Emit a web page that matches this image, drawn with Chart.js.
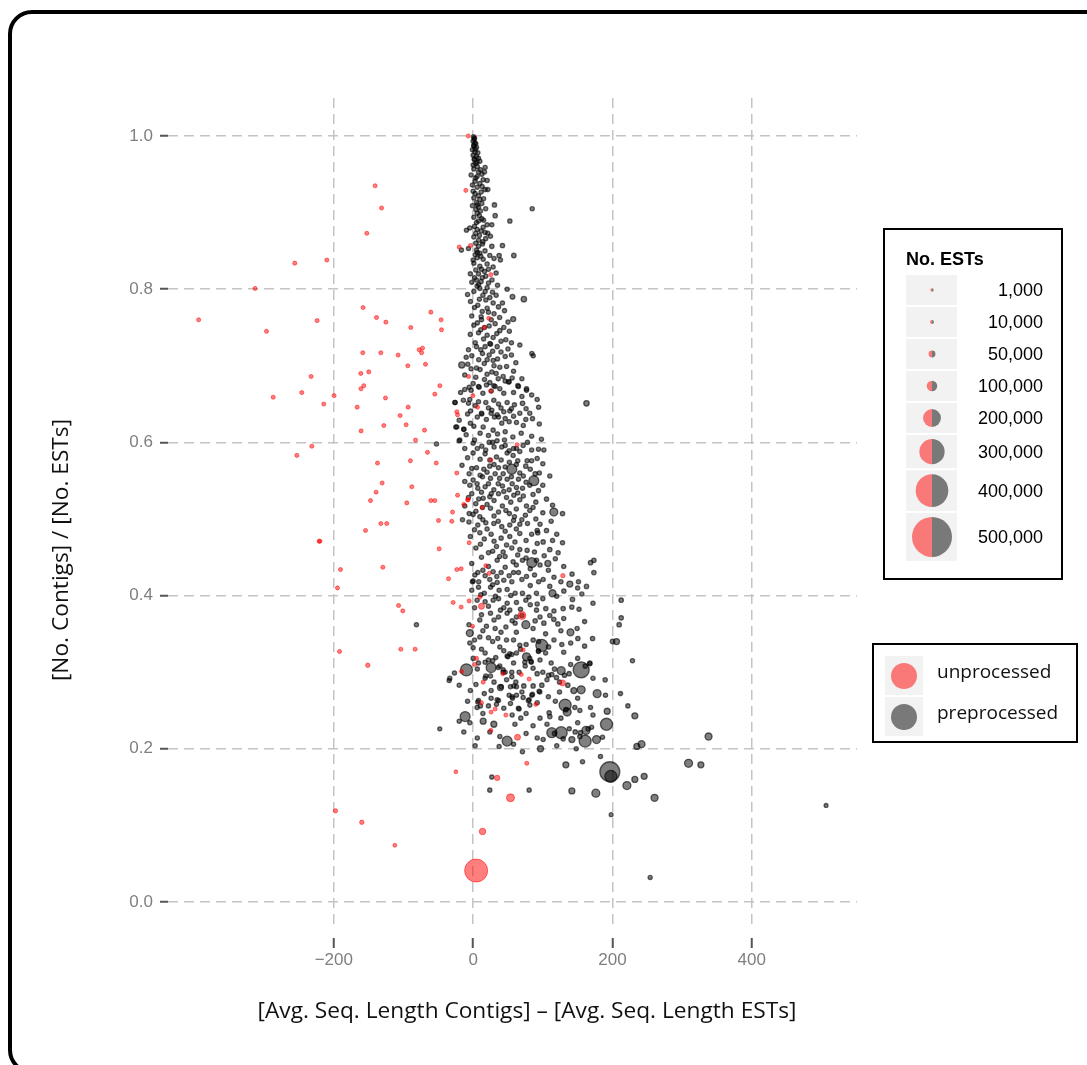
<!DOCTYPE html>
<html>
<head>
<meta charset="utf-8">
<script src="https://cdn.jsdelivr.net/npm/chart.js@4.4.0/dist/chart.umd.min.js"></script>
<style>
  html, body { margin: 0; padding: 0; background: #fff; overflow: hidden; }
  #frame { position: absolute; left: 8px; top: 10px; width: 1200px; height: 1056px;
           border: 4px solid #000; border-radius: 24px; }
  #wrap { position: absolute; left: 0; top: 0; width: 1087px; height: 1065px; }
</style>
</head>
<body>
<div id="frame"></div>
<div id="wrap"><canvas id="chart"></canvas></div>
<script>
// axis ticks
const xTicks = [-200, 0, 200, 400];
const xTickLabels = ['\u2212200', '0', '200', '400'];
const yTicks = [0, 0.2, 0.4, 0.6, 0.8, 1.0];
const yTickLabels = ['0.0', '0.2', '0.4', '0.6', '0.8', '1.0'];

const xTitle = '[Avg. Seq. Length Contigs] \u2013 [Avg. Seq. Length ESTs]';
const yTitle = '[No. Contigs] / [No. ESTs]';

// size legend breaks (number of ESTs)
const sizeBreaks = [1000, 10000, 50000, 100000, 200000, 300000, 400000, 500000];
const sizeLabels = ['1,000', '10,000', '50,000', '100,000', '200,000', '300,000', '400,000', '500,000'];
const seriesNames = ['unprocessed', 'preprocessed'];

// [length difference, contigs/ESTs ratio, no. ESTs]
const unprocessed = [
  [-7,1.0,12000],[-140.7,0.935,12000],[-131.5,0.906,12000],[-152.6,0.873,12000],[-256,0.834,12000],
  [-210,0.838,12000],[-313,0.801,12000],[-394,0.760,12000],[-296.6,0.745,12000],[-224,0.759,12000],
  [-158,0.776,12000],[-138.7,0.763,12000],[-125.3,0.757,12000],[-89.5,0.750,12000],[-60.7,0.770,12000],
  [-46,0.760,12000],[-45.4,0.747,12000],[-158.4,0.717,12000],[-132.5,0.717,12000],[-107.7,0.714,12000],
  [-77.5,0.721,12000],[-72.7,0.723,12000],[-74,0.717,12000],[-93.8,0.700,12000],[-68.4,0.702,12000],
  [-161.2,0.690,12000],[-149.8,0.692,12000],[-232.6,0.686,12000],[-157,0.674,12000],[-47.8,0.674,12000],
  [-10.5,0.929,12000],[-20,0.855,12000],[-3.8,0.857,12000],[25.4,0.819,12000],[22.5,0.762,12000],
  [15.8,0.750,12000],[-6.6,0.686,12000],[-161,0.670,12000],[-287,0.659,12000],[-246,0.665,12000],
  [-214.4,0.650,12000],[-199.6,0.661,12000],[-125.8,0.658,12000],[-166.5,0.646,12000],[-93.3,0.646,12000],
  [-104.8,0.635,12000],[-96.2,0.623,12000],[-128.2,0.622,12000],[-160.8,0.615,12000],[-69.8,0.616,12000],
  [-55,0.663,12000],[-82.7,0.603,12000],[-231.6,0.595,12000],[-253,0.583,12000],[-65.5,0.587,12000],
  [-137.3,0.573,12000],[-90,0.576,12000],[-53,0.573,12000],[-130.6,0.547,12000],[-88,0.542,12000],
  [-139.3,0.535,12000],[-147.3,0.524,12000],[-95.2,0.521,12000],[-60.7,0.524,12000],[-55,0.524,12000],
  [-132.5,0.494,12000],[-124,0.494,12000],[-154.5,0.485,12000],[-49.7,0.498,12000],[-29.6,0.509,12000],
  [-30.6,0.497,12000],[-221,0.471,12000],[-220,0.471,12000],[-48.8,0.461,12000],[-5.7,0.469,12000],
  [-23.4,0.640,12000],[-22.4,0.636,12000],[-23.4,0.560,12000],[-22.4,0.531,12000],[-13.4,0.519,12000],
  [-8,0.525,12000],[6.3,0.646,12000],[-0.4,0.661,12000],[-190.4,0.434,12000],[-129.6,0.437,12000],
  [-23.4,0.434,12000],[-17.2,0.435,12000],[-35.3,0.422,12000],[-194.7,0.410,12000],[18.2,0.439,12000],
  [23,0.429,12000],[-107,0.387,12000],[-101,0.380,12000],[-28.7,0.391,12000],[-17.2,0.385,12000],
  [-5.7,0.393,12000],[9.6,0.398,12000],[12,0.386,38000],[-0.9,0.360,12000],[-191.8,0.327,12000],
  [-103.8,0.330,12000],[-83.3,0.330,12000],[-151.2,0.309,16000],[4.9,0.318,12000],[2.4,0.310,12000],
  [-16.7,0.301,12000],[25.4,0.667,12000],[63.2,0.597,12000],[25.4,0.577,12000],[-7.2,0.525,12000],
  [13,0.515,12000],[128.8,0.426,16000],[70,0.374,65000],[71.8,0.329,12000],[42.6,0.298,12000],
  [69,0.297,12000],[80.4,0.291,12000],[14.4,0.287,12000],[128.3,0.286,38000],[12,0.260,12000],
  [31.6,0.252,12000],[25.8,0.248,12000],[47,0.244,12000],[90,0.258,12000],[25.4,0.224,12000],
  [63.7,0.215,38000],[-24.8,0.170,9000],[34.5,0.162,30000],[77,0.181,12000],[53.6,0.136,65000],
  [13.5,0.092,45000],[4.3,0.041,270000],[-197.6,0.119,16000],[-159.8,0.104,16000],[-112.4,0.074,9000]
];

const preprocessed = [
  // narrow top of the cloud
  [0.5,0.999,14000],[1.5,0.996,14000],[0,0.993,14000],[2.5,0.991,14000],[1,0.988,14000],
  [3.8,0.990,14000],[1,0.987,14000],[4.8,0.985,14000],[-1,0.982,14000],[2.9,0.979,14000],
  [6.7,0.978,14000],[0,0.975,14000],[4.8,0.973,14000],[1.5,0.970,14000],[7.7,0.971,14000],
  [1.9,0.969,14000],[9.6,0.967,14000],[3.8,0.964,14000],[0,0.962,14000],[6,0.960,14000],
  [17.2,0.959,14000],[1,0.957,14000],[7.7,0.953,14000],[16.3,0.953,14000],[12.5,0.950,14000],
  [-2.9,0.949,14000],[5.7,0.947,14000],[14.4,0.943,14000],[20.1,0.942,14000],[2.9,0.941,14000],
  [9.6,0.938,14000],[-1,0.936,14000],[5.7,0.933,14000],[17.2,0.930,14000],[21.1,0.930,14000],
  [11.5,0.927,14000],[2.9,0.925,14000],[7.7,0.922,14000],[1,0.919,14000],[9.6,0.917,14000],
  [4.8,0.913,14000],[12.5,0.912,14000],[-1,0.909,14000],[7.7,0.907,14000],[30.6,0.910,16000],
  [3.8,0.904,14000],[10.5,0.902,14000],[84.8,0.905,14000],[5.7,0.899,14000],[31.6,0.896,16000],
  [1,0.894,14000],[12.5,0.892,14000],[7.7,0.889,14000],[52.7,0.889,16000],[20.1,0.884,14000],
  [26.8,0.884,14000],[14.4,0.881,14000],[4.8,0.887,14000],[-4.8,0.880,14000],[-9.6,0.877,14000],
  [5.7,0.878,14000],[11.5,0.876,14000],[17.2,0.874,14000],[21.1,0.873,14000],[3.8,0.873,14000],
  [24.9,0.869,14000],[1,0.868,14000],[8,0.864,14000],[14,0.862,14000],
  [2,0.997,14000],[3,0.983,14000],[5.5,0.966,14000],[10.5,0.956,14000],[3.5,0.945,14000],
  [13,0.934,14000],[0,0.928,14000],[15,0.918,14000],[6,0.910,14000],[18,0.905,14000],
  [9,0.896,14000],[15,0.890,14000],[2,0.882,14000],[9,0.870,14000],[18,0.866,14000],
  // 0.86 - 0.67
  [-16.8,0.851,14000],[-6.7,0.853,14000],[3.8,0.860,14000],[7.7,0.856,14000],[13.4,0.859,14000],
  [4.8,0.851,14000],[26.8,0.856,16000],[42.1,0.857,16000],[9.6,0.847,14000],[2.9,0.845,14000],
  [23.9,0.844,14000],[37.3,0.844,16000],[58.4,0.844,18000],[5.7,0.841,14000],[14.4,0.839,14000],
  [39.2,0.838,14000],[1,0.834,14000],[20.1,0.833,14000],[9.6,0.830,14000],[28.7,0.829,14000],
  [3.8,0.825,14000],[16.3,0.823,14000],[7.7,0.820,14000],[18.2,0.817,14000],[-1.9,0.809,14000],
  [4.8,0.812,14000],[11.5,0.810,14000],[22,0.808,14000],[5.7,0.804,14000],[9.6,0.801,14000],
  [48.8,0.800,14000],[17.2,0.797,14000],[27.8,0.796,14000],[12,0.826,14000],[2,0.815,14000],
  [6,0.848,14000],[11,0.843,14000],[17,0.850,14000],[30,0.840,14000],[0,0.838,14000],
  [22,0.826,14000],[33,0.821,14000],[13,0.815,14000],[27,0.812,14000],[-4,0.820,14000],
  [8,0.806,14000],[35,0.805,14000],[20,0.802,14000],[1,0.797,14000],[14,0.792,14000],
  [24,0.789,14000],[-8,0.793,14000],[33,0.792,14000],[9,0.787,14000],
  [-3.8,0.784,14000],[56.5,0.790,22000],[72.8,0.787,30000],[18.2,0.786,14000],[28.7,0.782,14000],
  [6.7,0.779,14000],[20.1,0.775,14000],[36.4,0.777,16000],[42.1,0.782,14000],[11.5,0.764,14000],
  [22,0.770,14000],[57.5,0.761,25000],[1,0.753,14000],[16.3,0.750,14000],[31.6,0.755,14000],
  [38.3,0.746,16000],[44,0.750,14000],[7.7,0.743,14000],[20.1,0.740,14000],[28.7,0.737,14000],
  [46.9,0.734,14000],[-6.7,0.721,14000],[4.8,0.725,14000],[17.2,0.725,14000],[34.5,0.725,14000],
  [67,0.727,14000],[13.4,0.716,14000],[23,0.714,14000],[84.3,0.716,14000],[86.2,0.713,14000],
  [-1.9,0.713,14000],[-16.3,0.701,40000],[-7.7,0.702,14000],[20.1,0.708,14000],[28.7,0.707,14000],
  [46,0.712,14000],[61.3,0.704,14000],[4.8,0.697,14000],[38.3,0.698,14000],[26.8,0.692,14000],
  [43.1,0.686,14000],[50.8,0.679,16000],[3.8,0.685,14000],[16.3,0.682,14000],[7.7,0.673,14000],
  [29.7,0.674,14000],[64.2,0.674,16000],[76.6,0.670,16000],[-5.7,0.672,14000],[12,0.760,14000],
  [25,0.728,14000],[10,0.695,14000],[33,0.690,14000],
  [2,0.776,14000],[13,0.771,14000],[30,0.768,14000],[45,0.772,14000],[-2,0.765,14000],
  [26,0.760,14000],[38,0.763,14000],[50,0.757,14000],[6,0.756,14000],[23,0.752,14000],
  [11,0.747,14000],[34,0.742,14000],[52,0.745,14000],[-4,0.741,14000],[15,0.735,14000],
  [40,0.732,14000],[24,0.729,14000],[55,0.730,14000],[3,0.730,14000],[11,0.721,14000],
  [28,0.719,14000],[40,0.718,14000],[50,0.722,14000],[-10,0.711,14000],[8,0.708,14000],
  [35,0.709,14000],[55,0.714,14000],[16,0.703,14000],[30,0.700,14000],[48,0.699,14000],
  [-3,0.696,14000],[58,0.693,14000],[20,0.689,14000],[-12,0.688,14000],[36,0.683,14000],
  [46,0.680,14000],[24,0.678,14000],[0,0.677,14000],[56,0.684,14000],[70,0.683,14000],
  // 0.68 - 0.55
  [-12,0.669,14000],[8.6,0.672,14000],[19.1,0.675,14000],[31.6,0.673,14000],[38.3,0.670,14000],
  [51.7,0.679,14000],[65.1,0.673,14000],[76.6,0.668,14000],[-25.8,0.652,14000],[-4.8,0.656,14000],
  [7.7,0.653,14000],[18.2,0.652,14000],[29.7,0.655,14000],[36.4,0.650,14000],[48.8,0.652,14000],
  [59.3,0.649,14000],[70.9,0.651,18000],[91.9,0.656,14000],[162.7,0.651,30000],[12.4,0.637,14000],
  [25.8,0.638,14000],[34.4,0.636,14000],[44,0.640,14000],[52.6,0.641,14000],[67,0.638,14000],
  [81.3,0.638,14000],[-24.9,0.620,14000],[-13.4,0.617,14000],[1,0.621,14000],[14.4,0.620,14000],
  [28.7,0.616,14000],[41.1,0.625,14000],[51.7,0.627,14000],[62.2,0.626,14000],[75.6,0.630,14000],
  [85.2,0.631,14000],[30.6,0.633,14000],[36.4,0.633,14000],[26.8,0.642,14000],
  [-52.6,0.598,14000],[-19.1,0.603,14000],[0,0.599,14000],[12.4,0.595,14000],[23,0.600,14000],
  [34.4,0.602,14000],[41.1,0.594,14000],[51.7,0.589,14000],[62.2,0.592,14000],[71.8,0.596,14000],
  [93.8,0.591,14000],[101.5,0.590,14000],[0,0.586,14000],[17.2,0.585,14000],[33.5,0.581,14000],
  [40.2,0.577,14000],[48.8,0.586,14000],[57.4,0.583,14000],[67,0.588,14000],[77.5,0.576,14000],
  [91.9,0.579,14000],[-5.7,0.559,14000],[4.8,0.567,14000],[15.3,0.565,14000],[23.9,0.569,14000],
  [36.4,0.567,14000],[43.1,0.559,14000],[55.5,0.565,92000],[67,0.560,14000],[75.6,0.569,16000],
  [87.1,0.550,92000],[89,0.559,16000],[13.4,0.555,14000],[24.9,0.553,14000],[31.6,0.559,14000],
  [48.8,0.552,14000],[65.1,0.552,14000],[5.7,0.546,14000],
  [-26.3,0.652,14000],[-13.4,0.617,14000],[-23.5,0.620,14000],[-20.1,0.602,14000],[-3.8,0.641,14000],
  [-6.7,0.651,14000],[12,0.638,14000],
  [-18,0.665,14000],[-3,0.668,14000],[14,0.664,14000],[26,0.667,14000],[44,0.664,14000],
  [58,0.665,14000],[70,0.660,14000],[84,0.662,14000],[-14,0.655,14000],[3,0.648,14000],
  [22,0.645,14000],[40,0.645,14000],[55,0.644,14000],[76,0.644,14000],[94,0.646,14000],
  [-8,0.637,14000],[6,0.633,14000],[19,0.630,14000],[46,0.631,14000],[58,0.634,14000],
  [72,0.622,14000],[95,0.624,14000],[-20,0.629,14000],[-4,0.625,14000],[10,0.612,14000],
  [22,0.609,14000],[35,0.611,14000],[46,0.614,14000],[57,0.607,14000],[69,0.612,14000],
  [84,0.608,14000],[-10,0.610,14000],[2,0.603,14000],[28,0.600,14000],[45,0.603,14000],
  [78,0.600,14000],[98,0.604,14000],
  [-12,0.592,14000],[6,0.592,14000],[18,0.590,14000],[30,0.594,14000],[46,0.596,14000],
  [58,0.592,14000],[84,0.590,14000],[-8,0.580,14000],[10,0.578,14000],[24,0.577,14000],
  [52,0.574,14000],[64,0.576,14000],[84,0.576,14000],[100,0.572,14000],[-16,0.570,14000],
  [-2,0.566,14000],[30,0.571,14000],[46,0.568,14000],[62,0.571,14000],[82,0.565,14000],
  [10,0.557,14000],[20,0.561,14000],[38,0.553,14000],[55,0.555,14000],[72,0.556,14000],
  [95,0.560,14000],[110,0.556,14000],
  // 0.55 - 0.42
  [-4.8,0.544,14000],[6.7,0.540,14000],[17.2,0.542,14000],[29.7,0.538,14000],[42.1,0.543,14000],
  [51.7,0.538,14000],[62.2,0.541,14000],[70.9,0.540,14000],[81.3,0.544,14000],[93.8,0.537,14000],
  [-6.7,0.528,14000],[3.8,0.520,14000],[14.4,0.527,14000],[23.9,0.529,14000],[36.4,0.533,14000],
  [47.9,0.528,14000],[58.4,0.531,14000],[67,0.525,14000],[76.6,0.517,14000],[105.3,0.526,16000],
  [13.4,0.515,14000],[24.9,0.514,14000],[36.4,0.509,14000],[47,0.511,14000],[59.3,0.503,14000],
  [69.9,0.499,14000],[81.3,0.511,14000],[115.8,0.509,65000],[128.3,0.507,16000],[6.7,0.492,14000],
  [18.2,0.495,14000],[29.7,0.494,14000],[41.1,0.490,14000],[52.6,0.492,14000],[67,0.493,14000],
  [-15.3,0.499,14000],[-5.7,0.507,14000],[9.6,0.503,14000],[0,0.506,14000],
  [-12,0.549,14000],[0,0.551,14000],[22,0.546,14000],[36,0.546,14000],[56,0.546,14000],
  [76,0.548,14000],[100,0.544,14000],[12,0.535,14000],[26,0.533,14000],[44,0.536,14000],
  [64,0.534,14000],[86,0.532,14000],[-2,0.533,14000],[8,0.526,14000],[30,0.524,14000],
  [54,0.522,14000],[72,0.530,14000],[90,0.522,14000],[114,0.518,14000],[-12,0.517,14000],
  [20,0.519,14000],[42,0.517,14000],[62,0.513,14000],[86,0.515,14000],[100,0.508,14000],
  [4,0.510,14000],[30,0.504,14000],[52,0.507,14000],[75,0.505,14000],[90,0.500,14000],
  [9.6,0.482,14000],[25.8,0.480,14000],[40.2,0.475,14000],[52.6,0.477,14000],[67,0.481,14000],
  [91.9,0.485,16000],[105.3,0.485,16000],[10.5,0.467,14000],[22,0.456,14000],[33.5,0.464,14000],
  [43.1,0.457,14000],[55.5,0.462,14000],[67,0.460,14000],[77.5,0.459,14000],[92.8,0.482,16000],
  [100.5,0.470,16000],[110,0.460,18000],[128.3,0.469,14000],[34.5,0.446,14000],[45.9,0.451,14000],
  [57.4,0.444,14000],[70.8,0.446,14000],[84.2,0.443,92000],[90.9,0.446,16000],[107.2,0.442,38000],
  [168.5,0.443,16000],[173.3,0.446,16000],[6.7,0.430,14000],[17.2,0.426,14000],[28.7,0.431,14000],
  [40.2,0.430,14000],[51.7,0.426,14000],[65.1,0.430,14000],[76.6,0.425,14000],[88.1,0.427,14000],
  [100.5,0.421,14000],[0,0.419,14000],[23.9,0.421,14000],[34.5,0.417,14000],[55.5,0.418,14000],
  [138.8,0.415,38000],[151.2,0.418,14000],[162.7,0.412,16000],[173.3,0.430,16000],
  [2.4,0.427,14000],[-1,0.418,14000],[11,0.401,14000],
  [-6,0.496,14000],[14,0.499,14000],[36,0.497,14000],[58,0.498,14000],[78,0.494,14000],
  [96,0.493,14000],[112,0.497,14000],[2,0.486,14000],[20,0.487,14000],[46,0.484,14000],
  [62,0.487,14000],[84,0.480,14000],[120,0.480,14000],[-4,0.477,14000],[16,0.474,14000],
  [30,0.471,14000],[60,0.470,14000],[76,0.472,14000],[92,0.468,14000],[114,0.472,14000],
  [4,0.462,14000],[28,0.458,14000],[48,0.466,14000],[64,0.453,14000],[88,0.457,14000],
  [102,0.452,14000],[122,0.456,14000],[12,0.450,14000],[38,0.451,14000],[76,0.449,14000],
  [96,0.440,14000],[118,0.448,14000],[-2,0.442,14000],[22,0.438,14000],[46,0.437,14000],
  [62,0.440,14000],[82,0.435,14000],[108,0.433,14000],[130,0.438,14000],[14,0.433,14000],
  [34,0.425,14000],[58,0.430,14000],[70,0.421,14000],[94,0.418,14000],[116,0.424,14000],
  [142,0.428,14000],[8,0.418,14000],[28,0.414,14000],[44,0.420,14000],[82,0.413,14000],
  [110,0.412,14000],[126,0.418,14000],[150,0.410,14000],
  // 0.42 - 0.29
  [7.7,0.411,14000],[25,0.411,14000],[37.3,0.407,14000],[48.8,0.408,14000],[60.3,0.403,14000],
  [70.8,0.403,14000],[90.9,0.403,14000],[113.9,0.403,52000],[130.2,0.406,16000],[142.6,0.395,16000],
  [5.7,0.394,14000],[17.2,0.392,14000],[28.7,0.394,14000],[36.4,0.396,14000],[48.8,0.390,14000],
  [62.2,0.391,14000],[75.6,0.394,14000],[91.9,0.389,14000],[104.3,0.383,16000],[129.2,0.383,16000],
  [141.6,0.385,16000],[24.9,0.377,14000],[36.4,0.372,14000],[48.8,0.377,14000],[62.2,0.372,14000],
  [75.6,0.362,65000],[89,0.367,16000],[101.5,0.364,16000],[115.8,0.369,16000],[121.6,0.363,16000],
  [139.7,0.352,52000],[149.3,0.357,14000],[19.1,0.360,14000],[31.6,0.357,14000],[47,0.359,14000],
  [60.3,0.364,14000],[9.6,0.368,14000],[39.2,0.381,14000],[52.6,0.381,14000],[91,0.381,14000],
  [212.5,0.394,16000],[212.5,0.371,16000],[209.6,0.362,18000],[-81.4,0.362,14000],
  [-4.8,0.351,52000],[9.6,0.346,14000],[22,0.345,14000],[35.4,0.344,14000],[47.9,0.342,14000],
  [67,0.335,14000],[86.2,0.342,16000],[98.6,0.335,120000],[108.2,0.333,16000],[127.3,0.336,14000],
  [150.3,0.344,16000],[171.4,0.344,16000],[200.1,0.340,18000],[205.8,0.340,38000],[228.7,0.315,14000],
  [-4.8,0.338,14000],[0,0.332,14000],[38.3,0.333,14000],[17.2,0.325,14000],[32.5,0.319,14000],
  [48.8,0.321,14000],[62.2,0.325,14000],[76.6,0.320,65000],[83.3,0.314,14000],[93.8,0.328,14000],
  [7.7,0.312,14000],[25.8,0.306,92000],[43.1,0.303,14000],[55.5,0.300,14000],[74.7,0.308,14000],
  [91.9,0.298,16000],[108.2,0.296,16000],[116.8,0.304,16000],[126.4,0.302,65000],[137.8,0.298,16000],
  [155.1,0.303,174000],[167.5,0.312,16000],[-9.6,0.303,120000],[-26.8,0.299,14000],[17.2,0.292,14000],
  [-34.4,0.289,14000],[-33.5,0.292,14000],
  [-2,0.407,14000],[16,0.403,14000],[32,0.399,14000],[54,0.400,14000],[80,0.398,14000],
  [100,0.396,14000],[120,0.399,14000],[156,0.402,14000],[2,0.384,14000],[22,0.386,14000],
  [44,0.384,14000],[68,0.382,14000],[82,0.388,14000],[116,0.380,14000],[152,0.382,14000],
  [172,0.390,14000],[12,0.375,14000],[30,0.368,14000],[56,0.367,14000],[70,0.374,14000],
  [96,0.372,14000],[110,0.374,14000],[130,0.370,14000],[160,0.366,14000],[-6,0.362,14000],
  [14,0.354,14000],[40,0.352,14000],[62,0.352,14000],[86,0.357,14000],[104,0.350,14000],
  [126,0.354,14000],[2,0.342,14000],[28,0.340,14000],[58,0.342,14000],[76,0.336,14000],
  [94,0.340,14000],[116,0.342,14000],[140,0.338,14000],[160,0.334,14000],[12,0.330,14000],
  [44,0.328,14000],[68,0.330,14000],[104,0.325,14000],[130,0.326,14000],[150,0.318,14000],
  [0,0.318,14000],[28,0.315,14000],[58,0.312,14000],[96,0.316,14000],[112,0.312,14000],
  [140,0.310,14000],[6,0.304,14000],[36,0.306,14000],[66,0.300,14000],[86,0.305,14000],
  [100,0.300,14000],
  // 0.33 - 0.18
  [17.2,0.313,14000],[22,0.316,14000],[38.3,0.308,14000],[49.8,0.320,14000],[52.6,0.324,14000],
  [55.5,0.323,14000],[81.3,0.318,14000],[83.3,0.313,14000],[93.8,0.327,14000],[74.2,0.313,14000],
  [43.1,0.300,14000],[45.9,0.300,14000],[55.5,0.294,14000],[62.2,0.281,14000],[61.3,0.287,14000],
  [72.7,0.282,16000],[86.1,0.282,16000],[98.6,0.283,16000],[95.7,0.274,14000],[112.9,0.297,16000],
  [119.6,0.293,16000],[131.1,0.296,16000],[160.8,0.308,16000],[167.5,0.311,14000],[189.5,0.290,16000],
  [211.5,0.272,14000],[18.2,0.295,14000],[24.9,0.295,14000],[39.2,0.280,38000],[53.6,0.281,14000],
  [58.4,0.282,14000],[25.8,0.276,14000],[135.9,0.283,16000],[144.5,0.276,38000],[155.1,0.277,65000],
  [178,0.272,65000],[168.5,0.254,14000],[192.4,0.249,38000],[222.1,0.256,14000],[232.1,0.243,38000],
  [191.4,0.232,120000],[177.1,0.212,65000],[160.8,0.210,120000],[153.2,0.216,16000],[154.1,0.221,16000],
  [165.1,0.226,16000],[161.8,0.224,65000],[146.5,0.222,16000],[141.7,0.212,38000],[126.4,0.221,120000],
  [112.9,0.221,92000],[116.8,0.220,16000],[129.2,0.213,16000],[100.5,0.212,14000],[96.7,0.200,38000],
  [109.1,0.247,16000],[110.1,0.242,16000],[132.1,0.257,120000],[133.1,0.251,16000],[135,0.248,65000],
  [153.2,0.250,14000],[66,0.252,14000],[81.4,0.257,14000],[79.4,0.263,16000],[85.2,0.271,14000],
  [56.5,0.266,14000],[53.6,0.259,14000],[34.5,0.264,14000],[36.4,0.263,14000],[10.5,0.256,14000],
  [6.7,0.261,14000],[-11.5,0.242,92000],[-4.8,0.234,14000],[14.4,0.236,38000],[29.7,0.232,38000],
  [-13.4,0.222,14000],[-47.9,0.226,12000],[2.9,0.204,14000],[38.3,0.216,14000],[48.8,0.210,92000],
  [37.3,0.203,14000],[70.8,0.196,14000],[182.8,0.190,14000],[157,0.183,14000],[133.1,0.179,38000],
  [185.7,0.215,14000],[65,0.253,14000],[68.4,0.240,14000],[40.2,0.281,14000],[56,0.268,14000],
  [51.7,0.270,14000],[62.2,0.270,14000],[71.8,0.267,14000],[84.2,0.270,14000],[94.7,0.275,14000],
  [80.4,0.264,14000],[33.5,0.258,14000],[25.8,0.266,14000],[7.7,0.263,14000],[5.7,0.254,14000],
  [-20,0.283,14000],[4,0.284,14000],[30,0.287,14000],[48,0.290,14000],[106,0.290,14000],
  [124,0.287,14000],[172,0.292,14000],[-4,0.276,14000],[16,0.272,14000],[70,0.274,14000],
  [108,0.268,14000],[124,0.274,14000],[150,0.266,14000],[190,0.270,14000],[-8,0.262,14000],
  [22,0.256,14000],[44,0.253,14000],[92,0.260,14000],[118,0.262,14000],[146,0.254,14000],
  [14,0.246,14000],[56,0.244,14000],[76,0.246,14000],[96,0.240,14000],[126,0.240,14000],
  [172,0.244,14000],[-20,0.236,14000],[60,0.232,14000],[86,0.230,14000],[106,0.232,14000],
  [150,0.234,14000],[24,0.222,14000],[76,0.220,14000],[92,0.214,14000],[138,0.226,14000],
  [170,0.228,14000],[6,0.214,14000],[58,0.206,14000],[120,0.204,14000],[148,0.200,14000],
  // lower tail
  [196.2,0.170,228000],[197.7,0.164,120000],[220.7,0.152,65000],[232.1,0.160,38000],[245.5,0.164,38000],
  [260.4,0.136,52000],[176.1,0.142,65000],[141.7,0.145,38000],[26.8,0.163,14000],[23.9,0.146,14000],
  [80.4,0.146,14000],[198.1,0.114,9000],[254.1,0.032,12000],[309.2,0.181,65000],[326.9,0.179,38000],
  [337.9,0.216,52000],[506.6,0.126,9000],[235,0.203,38000],[241.7,0.206,52000]
];

// radius of a mark grows linearly with the number of ESTs
const pointSize = n => 1.6 + n * 3.68e-5;

const RED = 'rgba(255,0,0,0.5)';
const BLACK = 'rgba(0,0,0,0.5)';
const BLACK_EDGE = 'rgba(0,0,0,0.6)';

// hand drawn legends and axis titles
const decorations = {
  id: 'decorations',
  afterDraw(chart) {
    const c = chart.ctx;
    c.save();

    // axis titles
    c.fillStyle = '#111';
    c.font = '22.7px "Open Sans"';
    c.textAlign = 'center';
    c.textBaseline = 'middle';
    c.fillText(xTitle, 527, 1012);
    c.save();
    c.translate(62, 550);
    c.rotate(-Math.PI / 2);
    c.fillText(yTitle, 0, 0);
    c.restore();

    // size legend
    c.lineWidth = 2;
    c.strokeStyle = '#000';
    c.strokeRect(884, 229, 178, 350);
    c.fillStyle = '#000';
    c.font = 'bold 18px "Liberation Sans"';
    c.textAlign = 'left';
    c.fillText('No. ESTs', 906, 260);
    let top = 275;
    sizeBreaks.forEach((n, i) => {
      const r = pointSize(n);
      const h = Math.max(30, 2 * r + 8);
      c.fillStyle = '#f2f2f2';
      c.fillRect(906, top, 51, h);
      const cy = top + h / 2;
      c.fillStyle = RED;
      c.beginPath();
      c.arc(932, cy, r, Math.PI / 2, Math.PI * 1.5);
      c.closePath();
      c.fill();
      c.fillStyle = BLACK;
      c.beginPath();
      c.arc(932, cy, r, -Math.PI / 2, Math.PI / 2);
      c.closePath();
      c.fill();
      c.fillStyle = '#000';
      c.font = '18px "Liberation Sans"';
      c.textAlign = 'right';
      c.fillText(sizeLabels[i], 1043, cy + 1);
      top += h + 2;
    });

    // series legend
    c.strokeRect(873, 644, 204, 98);
    [RED, BLACK].forEach((col, i) => {
      const ky = 656 + i * 41;
      c.fillStyle = '#f2f2f2';
      c.fillRect(885, ky, 38, 39);
      c.fillStyle = col;
      c.beginPath();
      c.arc(904, ky + 20, 13, 0, Math.PI * 2);
      c.fill();
      c.fillStyle = '#111';
      c.font = '19px "Open Sans"';
      c.textAlign = 'left';
      c.fillText(seriesNames[i], 937, ky + 17);
    });
    c.restore();
  }
};

const toPoints = rows => rows.map(([x, y]) => ({ x, y }));

new Chart(document.getElementById('chart'), {
  type: 'scatter',
  data: {
    datasets: [
      {
        label: seriesNames[0],
        data: toPoints(unprocessed),
        pointRadius: ctx => pointSize(unprocessed[ctx.dataIndex][2]),
        backgroundColor: RED,
        borderColor: RED,
        borderWidth: 1
      },
      {
        label: seriesNames[1],
        data: toPoints(preprocessed),
        pointRadius: ctx => pointSize(preprocessed[ctx.dataIndex][2]),
        backgroundColor: BLACK,
        borderColor: BLACK_EDGE,
        borderWidth: 1.3
      }
    ]
  },
  options: {
    responsive: true,
    maintainAspectRatio: false,
    animation: false,
    events: [],
    layout: { padding: { top: 98, right: 230, bottom: 95, left: 0 } },
    plugins: { legend: { display: false }, tooltip: { enabled: false } },
    scales: {
      x: {
        type: 'linear',
        min: -438,
        max: 551,
        afterFit: s => { s.height = 40; },
        afterBuildTicks: s => { s.ticks = xTicks.map(v => ({ value: v })); },
        ticks: {
          callback: v => xTickLabels[xTicks.indexOf(v)],
          font: { family: 'Liberation Sans', size: 17 },
          color: '#7f7f7f',
          padding: 2,
          maxRotation: 0,
          autoSkip: false
        },
        grid: {
          color: '#c4c4c4',
          lineWidth: 1.5,
          tickColor: '#555',
          tickWidth: 2,
          tickLength: 18,
          tickBorderDash: [0, 8, 10, 10]
        },
        border: { display: false, dash: [10, 6] }
      },
      y: {
        type: 'linear',
        min: -0.0366,
        max: 1.0496,
        afterFit: s => { s.width = 168; },
        afterBuildTicks: s => { s.ticks = yTicks.map(v => ({ value: v })); },
        ticks: {
          callback: v => yTickLabels[yTicks.indexOf(v)],
          font: { family: 'Liberation Sans', size: 17 },
          color: '#7f7f7f',
          padding: 7
        },
        grid: {
          color: '#c4c4c4',
          lineWidth: 1.5,
          tickColor: '#555',
          tickWidth: 2,
          tickLength: 8,
          tickBorderDash: []
        },
        border: { display: false, dash: [10, 6] }
      }
    }
  },
  plugins: [decorations]
});
</script>
</body>
</html>
